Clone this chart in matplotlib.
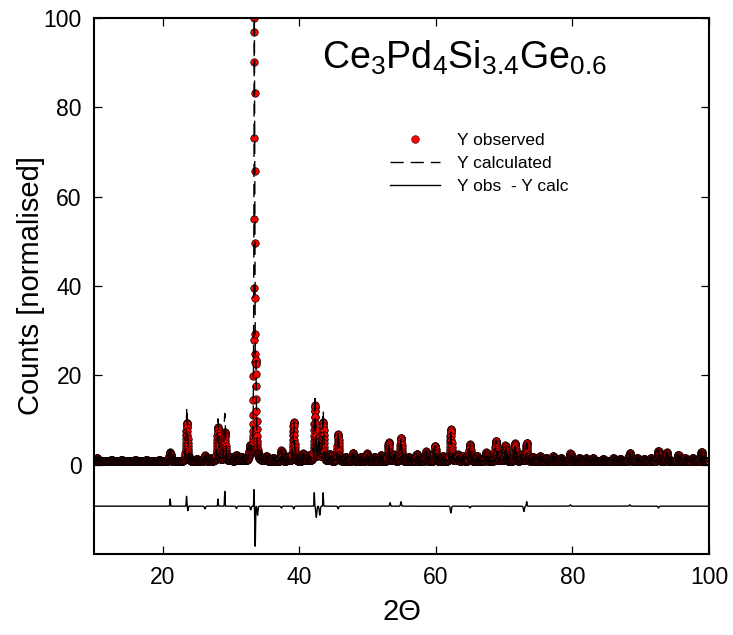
import numpy as np
import matplotlib
matplotlib.use("Agg")
import matplotlib.pyplot as plt

plt.rcParams['font.family'] = ['Liberation Sans', 'DejaVu Sans']
plt.rcParams['mathtext.fontset'] = 'custom'
plt.rcParams['mathtext.rm'] = 'Liberation Sans'
plt.rcParams['mathtext.it'] = 'Liberation Sans'

# ---- data ----
two_theta_min, two_theta_max, two_theta_step = 10.0, 100.0, 0.02
background = 0.7
norm_max = 100.0

peak_pos = [10.4, 12.5, 14.0, 16.0, 17.6, 19.5, 21.1, 23.55, 25.0, 26.2, 27.0, 28.1,
            29.1, 30.0, 30.8, 31.6, 32.8, 33.425, 33.65, 35.2, 36.2, 37.4, 38.3, 39.2,
            40.6, 41.4, 42.3, 42.9, 43.5, 44.5, 45.7, 46.8, 47.9, 49.0, 49.9, 51.0,
            52.0, 53.1, 53.9, 54.9, 56.0, 57.2, 58.6, 59.9, 61.0, 62.2, 63.2, 64.0,
            65.0, 66.0, 67.4, 68.8, 69.5, 70.2, 71.6, 72.5, 73.3, 74.2, 75.3, 76.2,
            77.2, 78.3, 79.7, 81.0, 82.0, 83.0, 84.5, 86.0, 87.0, 88.4, 89.5, 90.5,
            91.5, 92.6, 93.8, 95.5, 96.5, 97.6, 98.9]
obs_height = [0.8, 0.4, 0.4, 0.3, 0.3, 0.3, 2.0, 8.7, 0.5, 1.3, 0.6, 7.6,
              6.4, 0.8, 1.3, 0.8, 2.8, 98.0, 17.0, 1.0, 0.8, 2.4, 1.0, 8.7,
              1.7, 1.2, 12.4, 5.0, 8.7, 1.5, 6.1, 1.0, 1.8, 1.0, 1.8, 1.0,
              1.4, 4.3, 1.5, 5.3, 1.0, 1.7, 2.2, 3.5, 1.2, 7.2, 1.5, 1.2,
              3.8, 1.2, 2.0, 4.6, 1.5, 3.6, 4.0, 1.5, 4.1, 1.0, 1.2, 0.8,
              1.2, 0.8, 1.8, 0.8, 0.7, 0.8, 0.6, 0.7, 0.6, 1.9, 0.8, 0.6,
              0.8, 2.4, 2.0, 1.5, 0.8, 0.8, 2.2]
calc_height = [0.8, 0.4, 0.4, 0.3, 0.3, 0.3, 3.5, 12.1, 0.5, 1.3, 0.6, 9.4,
               10.6, 0.8, 1.3, 0.8, 2.8, 98.0, 17.0, 1.0, 0.8, 2.4, 1.0, 8.9,
               1.7, 1.2, 14.7, 5.0, 11.2, 1.5, 6.8, 1.0, 1.8, 1.0, 1.8, 1.0,
               1.4, 4.3, 1.5, 5.3, 1.0, 1.7, 2.2, 3.5, 1.2, 7.2, 1.5, 1.2,
               3.8, 1.2, 2.0, 4.6, 1.5, 3.6, 4.0, 1.5, 4.1, 1.0, 1.2, 0.8,
               1.2, 0.8, 1.8, 0.8, 0.7, 0.8, 0.6, 0.7, 0.6, 1.9, 0.8, 0.6,
               0.8, 2.4, 2.0, 1.5, 0.8, 0.8, 2.2]
peak_fwhm = [0.25] * 17 + [0.14, 0.18] + [0.22] * 60

diff_offset = -9.3
diff_pos = [21.1, 23.5, 23.7, 26.2, 28.1, 29.1, 30.8, 32.9, 33.38, 33.55, 33.9,
            37.4, 39.2, 42.2, 42.5, 43.0, 43.5, 45.7, 53.3, 54.9, 62.2, 65.0,
            72.9, 73.3, 79.7, 88.4, 92.6]
diff_amp = [1.6, 2.2, -1.0, -0.6, 1.6, 3.3, -0.5, -0.8, 3.7, -9.2, -2.0,
            -0.4, -0.6, 3.0, -2.5, -2.0, 3.0, -0.6, 0.8, 1.0, -1.5, -0.4,
            -1.2, 1.0, 0.3, 0.3, -0.4]
diff_width = [0.1, 0.1, 0.12, 0.18, 0.1, 0.09, 0.18, 0.18, 0.08, 0.1, 0.15,
              0.18, 0.18, 0.09, 0.18, 0.18, 0.09, 0.18, 0.15, 0.15, 0.18, 0.18,
              0.18, 0.12, 0.18, 0.18, 0.18]

xticks = [20, 40, 60, 80, 100]
yticks = [0, 20, 40, 60, 80, 100]


def pseudo_voigt(x, pos, h, w, eta=0.6):
    g = np.exp(-4 * np.log(2) * ((x - pos) / w) ** 2)
    l = 1.0 / (1.0 + 4 * ((x - pos) / w) ** 2)
    return h * (eta * l + (1 - eta) * g)


x = np.arange(two_theta_min, two_theta_max + two_theta_step / 2, two_theta_step)
y_obs = np.full_like(x, background)
y_calc = np.full_like(x, background)
for p, ho, hc, w in zip(peak_pos, obs_height, calc_height, peak_fwhm):
    y_obs += pseudo_voigt(x, p, ho, w)
    y_calc += pseudo_voigt(x, p, hc, w)
scale = norm_max / y_obs.max()
y_obs *= scale
y_calc *= scale
y_diff = np.full_like(x, diff_offset)
for p, a, w in zip(diff_pos, diff_amp, diff_width):
    y_diff += a * np.exp(-4 * np.log(2) * ((x - p) / w) ** 2)

fig = plt.figure(figsize=(7.33, 6.35), dpi=100)
ax = fig.add_axes([0.1287, 0.1276, 0.8386, 0.8441])

ax.plot(x, y_obs, 'o', ls='none', mfc='red', mec='black', mew=0.5, ms=5.4,
        label='Y observed', zorder=2)
ax.plot(x, y_calc, color='black', lw=1.0, dashes=(9.5, 5), label='Y calculated', zorder=3)
ax.plot(x, y_diff, color='black', lw=1.0, label='Y obs  - Y calc', zorder=3)

ax.set_xlim(10, 100)
ax.set_ylim(-20, 100)
ax.set_xticks(xticks)
ax.set_yticks(yticks)
ax.tick_params(direction='in', length=6, width=0.9, top=True, right=True,
               labelsize=16.5, pad=9)
for s in ax.spines.values():
    s.set_linewidth(1.5)

ax.set_xlabel('2\u0398', fontsize=21, labelpad=6)
ax.set_ylabel('Counts [normalised]', fontsize=21, labelpad=-1)

ax.text(0.37, 0.905, r'Ce$_3$Pd$_4$Si$_{3.4}$Ge$_{0.6}$', transform=ax.transAxes,
        fontsize=27, ha='left', va='baseline')

leg = ax.legend(loc='upper left', bbox_to_anchor=(0.455, 0.814), frameon=False,
                fontsize=12.5, handlelength=2.9, handletextpad=1.0,
                labelspacing=0.45, markerscale=1.05, numpoints=1)
for h in leg.legend_handles:
    if hasattr(h, 'set_markeredgewidth'):
        h.set_markeredgewidth(0.3)

fig.savefig('out.png', dpi=100)
